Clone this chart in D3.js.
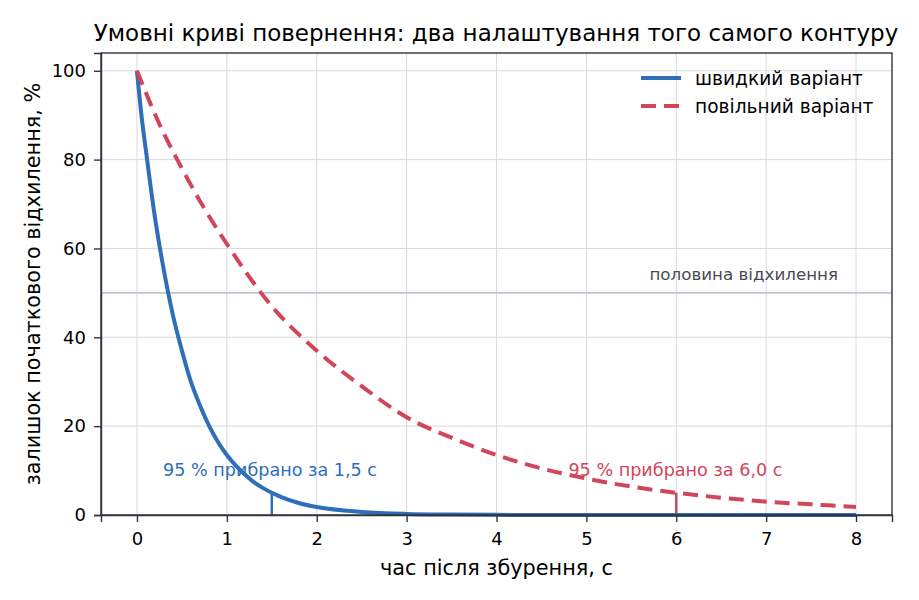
<!DOCTYPE html>
<meta charset="utf-8">
<style>
body { margin: 0; background: #fff; }
svg text { font-family: "DejaVu Sans", sans-serif; }
.axis path, .axis line { stroke: #33333d; stroke-width: 1.4; }
.axis text { font-size: 18px; fill: #000; }
.grid line { stroke: #d8d8e2; stroke-width: 1; }
</style>
<body>
<script src="https://cdn.jsdelivr.net/npm/d3@7"></script>
<script>

// values (% of initial deviation left)
var fastT = [0, 0.05, 0.1, 0.2, 0.3, 0.4, 0.5, 0.6, 0.7, 0.8, 0.9, 1.0, 1.1, 1.2, 1.3, 1.4, 1.5, 1.6, 1.8, 2.0, 2.5, 3.0, 3.5, 4.0, 5.0, 6.0, 7.0, 8.0];
var fastV = [100, 90, 82, 67, 55, 45, 37, 30, 24.7, 20.2, 16.5, 13.5, 11.1, 9.1, 7.4, 6.1, 5, 4.1, 2.7, 1.8, 0.7, 0.25, 0.1, 0.03, 0, 0, 0, 0];
var slowT = [0, 0.25, 0.5, 0.75, 1.0, 1.5, 2.0, 2.5, 3.0, 3.5, 4.0, 4.5, 5.0, 5.5, 6.0, 6.5, 7.0, 7.5, 8.0];
var slowV = [100, 88, 78, 69, 61, 47, 37, 29, 22, 17.4, 13.5, 10.5, 8.2, 6.4, 5, 3.9, 3, 2.4, 1.8];

var seriesNames = ["швидкий варіант", "повільний варіант"];
var settleT = [1.5, 6.0];     // 95 % removed
var settleV = [5, 5];
var settleLabels = ["95 % прибрано за 1,5 с", "95 % прибрано за 6,0 с"];
var xTicks = [0, 1, 2, 3, 4, 5, 6, 7, 8];
var yTicks = [0, 20, 40, 60, 80, 100];
var halfLevel = 50;

var colors = ["#2f6eb9", "#d2465b"];

var margin = {top: 53, right: 27, bottom: 85, left: 101},
    width = 919 - margin.left - margin.right,
    height = 600 - margin.top - margin.bottom;

var x = d3.scaleLinear().domain([-0.4, 8.4]).range([0, width]);
var y = d3.scaleLinear().domain([0, 104]).range([height, 0]);

var svg = d3.select("body").append("svg")
    .attr("width", 919)
    .attr("height", 600);

svg.append("text")
    .attr("x", 496)
    .attr("y", 41)
    .attr("text-anchor", "middle")
    .style("font-size", "23px")
    .text("Умовні криві повернення: два налаштування того самого контуру");

var g = svg.append("g")
    .attr("transform", "translate(" + margin.left + "," + margin.top + ")");

// grid
g.append("g").attr("class", "grid")
  .selectAll("line").data(xTicks).enter().append("line")
    .attr("x1", function(d) { return x(d); })
    .attr("x2", function(d) { return x(d); })
    .attr("y1", 0).attr("y2", height);
g.append("g").attr("class", "grid")
  .selectAll("line").data(yTicks).enter().append("line")
    .attr("x1", 0).attr("x2", width)
    .attr("y1", function(d) { return y(d); })
    .attr("y2", function(d) { return y(d); });

// half level
g.append("line")
    .attr("x1", 0).attr("x2", width)
    .attr("y1", y(halfLevel)).attr("y2", y(halfLevel))
    .attr("stroke", "#c4c5cf").attr("stroke-width", 1.6);
g.append("text")
    .attr("x", x(7.8))
    .attr("y", y(halfLevel) - 13)
    .attr("text-anchor", "end")
    .attr("fill", "#4a4a55")
    .style("font-size", "16.7px")
    .text("половина відхилення");

var line = d3.line()
    .x(function(d) { return x(d[0]); })
    .y(function(d) { return y(d[1]); })
    .curve(d3.curveMonotoneX);

var series = [d3.zip(fastT, fastV), d3.zip(slowT, slowV)];

// settle markers
g.selectAll(".settle").data(settleT).enter().append("line")
    .attr("x1", function(d) { return x(d); })
    .attr("x2", function(d) { return x(d); })
    .attr("y1", y(0))
    .attr("y2", function(d, i) { return y(settleV[i]); })
    .attr("stroke", function(d, i) { return colors[i]; })
    .attr("stroke-width", 2.5);

g.selectAll(".curve").data(series).enter().append("path")
    .attr("fill", "none")
    .attr("stroke", function(d, i) { return colors[i]; })
    .attr("stroke-width", 4)
    .attr("stroke-dasharray", function(d, i) { return i == 1 ? "15,8" : null; })
    .attr("d", line);

g.selectAll(".note").data(settleLabels).enter().append("text")
    .attr("x", function(d, i) { return x([0.29, 4.8][i]); })
    .attr("y", y(10) + 5)
    .attr("fill", function(d, i) { return colors[i]; })
    .style("font-size", "17.6px")
    .text(function(d) { return d; });

// axes
g.append("g").attr("class", "x axis")
    .attr("transform", "translate(0," + height + ")")
    .call(d3.axisBottom(x).tickValues(xTicks).tickFormat(d3.format("d")).tickSizeOuter(0).tickSize(7).tickPadding(10));
g.append("g").attr("class", "y axis")
    .call(d3.axisLeft(y).tickValues(yTicks).tickFormat(d3.format("d")).tickSizeOuter(0).tickSize(7).tickPadding(8));

// frame
g.append("rect")
    .attr("width", width).attr("height", height)
    .attr("fill", "none").attr("stroke", "#33333d").attr("stroke-width", 1.4);

// axis titles
svg.append("text")
    .attr("x", margin.left + width / 2)
    .attr("y", 575)
    .attr("text-anchor", "middle")
    .style("font-size", "20.8px")
    .text("час після збурення, с");
svg.append("text")
    .attr("transform", "translate(40," + (margin.top + height / 2) + ") rotate(-90)")
    .attr("text-anchor", "middle")
    .style("font-size", "20.8px")
    .text("залишок початкового відхилення, %");

// legend
var leg = g.append("g").attr("transform", "translate(" + (641 - margin.left) + "," + (78 - margin.top) + ")");
leg.selectAll("line").data(seriesNames).enter().append("line")
    .attr("x1", 0).attr("x2", 40)
    .attr("y1", function(d, i) { return i * 28; })
    .attr("y2", function(d, i) { return i * 28; })
    .attr("stroke", function(d, i) { return colors[i]; })
    .attr("stroke-width", 4)
    .attr("stroke-dasharray", function(d, i) { return i == 1 ? "15,8" : null; });
leg.selectAll("text").data(seriesNames).enter().append("text")
    .attr("x", 54)
    .attr("y", function(d, i) { return i * 28 + 6.5; })
    .style("font-size", "18.6px")
    .text(function(d) { return d; });

</script>
